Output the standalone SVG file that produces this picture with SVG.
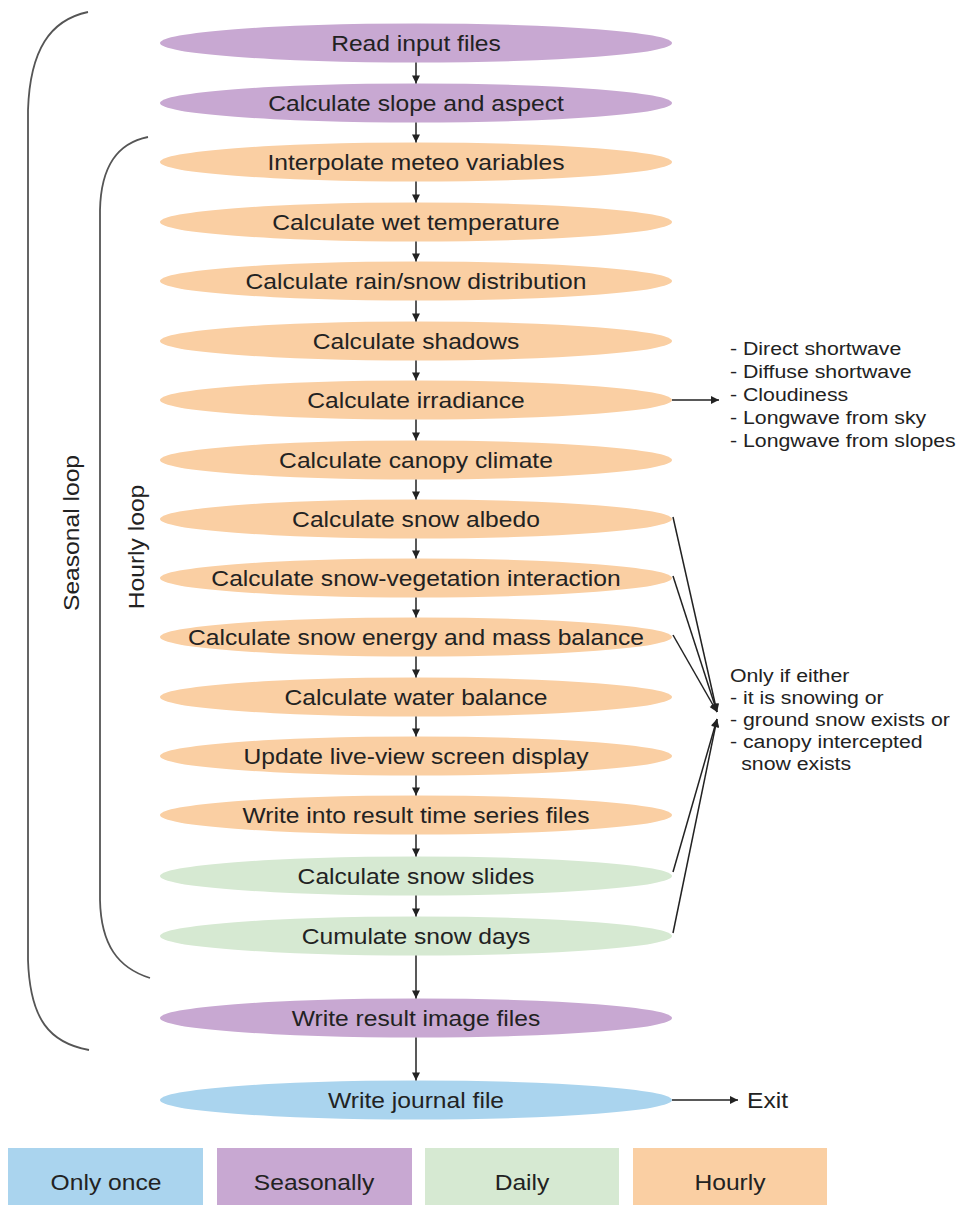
<svg xmlns="http://www.w3.org/2000/svg" width="964" height="1205" viewBox="0 0 964 1205">
<defs>
<style>
.s{fill:#c8a8d2}.h{fill:#facfa3}.d{fill:#d6e9d2}.o{fill:#aad4ee}
.t{font-family:"Liberation Sans",Arial,sans-serif;font-size:22px;fill:#222;text-anchor:middle}
.n{font-family:"Liberation Sans",Arial,sans-serif;font-size:19px;fill:#222}
.c{stroke:#222;stroke-width:1.5;fill:none}
.b{stroke:#555;stroke-width:1.8;fill:none}
</style>
<marker id="ah" viewBox="0 0 10 10" refX="10" refY="5" markerUnits="userSpaceOnUse" markerWidth="9" markerHeight="8" orient="auto"><path d="M0,0 L10,5 L0,10 z" fill="#222"/></marker>
</defs>
<rect width="964" height="1205" fill="#fff"/>
<g id="brackets">
<path class="b" d="M88,12 C50,20 30,50 28,110 L28,960 C30,1020 50,1043 89,1050"/>
<path class="b" d="M148,137 C118,143 101,165 100,210 L100,900 C101,945 118,968 150,978"/>
<text class="t" transform="translate(79,533) rotate(-90) scale(1.12,1)">Seasonal loop</text>
<text class="t" transform="translate(144,547) rotate(-90) scale(1.12,1)">Hourly loop</text>
</g>
<g id="n1"><ellipse class="s" cx="416" cy="43" rx="256" ry="19.5"/><text class="t" transform="translate(416,51) scale(1.12,1)">Read input files</text></g>
<g id="n2"><ellipse class="s" cx="416" cy="103" rx="256" ry="19.5"/><text class="t" transform="translate(416,111) scale(1.12,1)">Calculate slope and aspect</text></g>
<g id="n3"><ellipse class="h" cx="416" cy="162" rx="256" ry="19.5"/><text class="t" transform="translate(416,170) scale(1.12,1)">Interpolate meteo variables</text></g>
<g id="n4"><ellipse class="h" cx="416" cy="222" rx="256" ry="19.5"/><text class="t" transform="translate(416,230) scale(1.12,1)">Calculate wet temperature</text></g>
<g id="n5"><ellipse class="h" cx="416" cy="281" rx="256" ry="19.5"/><text class="t" transform="translate(416,289) scale(1.12,1)">Calculate rain/snow distribution</text></g>
<g id="n6"><ellipse class="h" cx="416" cy="341" rx="256" ry="19.5"/><text class="t" transform="translate(416,349) scale(1.12,1)">Calculate shadows</text></g>
<g id="n7"><ellipse class="h" cx="416" cy="400" rx="256" ry="19.5"/><text class="t" transform="translate(416,408) scale(1.12,1)">Calculate irradiance</text></g>
<g id="n8"><ellipse class="h" cx="416" cy="460" rx="256" ry="19.5"/><text class="t" transform="translate(416,468) scale(1.12,1)">Calculate canopy climate</text></g>
<g id="n9"><ellipse class="h" cx="416" cy="519" rx="256" ry="19.5"/><text class="t" transform="translate(416,527) scale(1.12,1)">Calculate snow albedo</text></g>
<g id="n10"><ellipse class="h" cx="416" cy="578" rx="256" ry="19.5"/><text class="t" transform="translate(416,586) scale(1.12,1)">Calculate snow-vegetation interaction</text></g>
<g id="n11"><ellipse class="h" cx="416" cy="637" rx="256" ry="19.5"/><text class="t" transform="translate(416,645) scale(1.12,1)">Calculate snow energy and mass balance</text></g>
<g id="n12"><ellipse class="h" cx="416" cy="697" rx="256" ry="19.5"/><text class="t" transform="translate(416,705) scale(1.12,1)">Calculate water balance</text></g>
<g id="n13"><ellipse class="h" cx="416" cy="756" rx="256" ry="19.5"/><text class="t" transform="translate(416,764) scale(1.12,1)">Update live-view screen display</text></g>
<g id="n14"><ellipse class="h" cx="416" cy="815" rx="256" ry="19.5"/><text class="t" transform="translate(416,823) scale(1.12,1)">Write into result time series files</text></g>
<g id="n15"><ellipse class="d" cx="416" cy="876" rx="256" ry="19.5"/><text class="t" transform="translate(416,884) scale(1.12,1)">Calculate snow slides</text></g>
<g id="n16"><ellipse class="d" cx="416" cy="936" rx="256" ry="19.5"/><text class="t" transform="translate(416,944) scale(1.12,1)">Cumulate snow days</text></g>
<g id="n17"><ellipse class="s" cx="416" cy="1018" rx="256" ry="19.5"/><text class="t" transform="translate(416,1026) scale(1.12,1)">Write result image files</text></g>
<g id="n18"><ellipse class="o" cx="416" cy="1100" rx="256" ry="19.5"/><text class="t" transform="translate(416,1108) scale(1.12,1)">Write journal file</text></g>
<g id="notes">
<g transform="translate(730,0) scale(1.12,1)">
<text class="n" x="0" y="355">- Direct shortwave</text>
<text class="n" x="0" y="378">- Diffuse shortwave</text>
<text class="n" x="0" y="401">- Cloudiness</text>
<text class="n" x="0" y="424">- Longwave from sky</text>
<text class="n" x="0" y="447">- Longwave from slopes</text>
<text class="n" x="0" y="682">Only if either</text>
<text class="n" x="0" y="704">- it is snowing or</text>
<text class="n" x="0" y="726">- ground snow exists or</text>
<text class="n" x="0" y="748">- canopy intercepted</text>
<text class="n" x="10" y="770">snow exists</text>
</g>
<text class="t" transform="translate(747,1108) scale(1.12,1)" style="text-anchor:start">Exit</text>
</g>
<g id="connectors">
<line class="c" x1="416" y1="62.5" x2="416" y2="83.5" marker-end="url(#ah)"/>
<line class="c" x1="416" y1="122.5" x2="416" y2="142.5" marker-end="url(#ah)"/>
<line class="c" x1="416" y1="181.5" x2="416" y2="202.5" marker-end="url(#ah)"/>
<line class="c" x1="416" y1="241.5" x2="416" y2="261.5" marker-end="url(#ah)"/>
<line class="c" x1="416" y1="300.5" x2="416" y2="321.5" marker-end="url(#ah)"/>
<line class="c" x1="416" y1="360.5" x2="416" y2="380.5" marker-end="url(#ah)"/>
<line class="c" x1="416" y1="419.5" x2="416" y2="440.5" marker-end="url(#ah)"/>
<line class="c" x1="416" y1="479.5" x2="416" y2="499.5" marker-end="url(#ah)"/>
<line class="c" x1="416" y1="538.5" x2="416" y2="558.5" marker-end="url(#ah)"/>
<line class="c" x1="416" y1="597.5" x2="416" y2="617.5" marker-end="url(#ah)"/>
<line class="c" x1="416" y1="656.5" x2="416" y2="677.5" marker-end="url(#ah)"/>
<line class="c" x1="416" y1="716.5" x2="416" y2="736.5" marker-end="url(#ah)"/>
<line class="c" x1="416" y1="775.5" x2="416" y2="795.5" marker-end="url(#ah)"/>
<line class="c" x1="416" y1="834.5" x2="416" y2="856.5" marker-end="url(#ah)"/>
<line class="c" x1="416" y1="895.5" x2="416" y2="916.5" marker-end="url(#ah)"/>
<line class="c" x1="416" y1="955.5" x2="416" y2="998.5" marker-end="url(#ah)"/>
<line class="c" x1="416" y1="1037.5" x2="416" y2="1080.5" marker-end="url(#ah)"/>
<line class="c" x1="672" y1="400" x2="719" y2="400" marker-end="url(#ah)"/>
<line class="c" x1="672" y1="1100" x2="738" y2="1100" marker-end="url(#ah)"/>
<line class="c" x1="673" y1="517" x2="717" y2="712" marker-end="url(#ah)"/>
<line class="c" x1="673" y1="576" x2="717" y2="712" marker-end="url(#ah)"/>
<line class="c" x1="673" y1="635" x2="717" y2="712" marker-end="url(#ah)"/>
<line class="c" x1="673" y1="872" x2="717" y2="719" marker-end="url(#ah)"/>
<line class="c" x1="673" y1="933" x2="717" y2="719" marker-end="url(#ah)"/>
</g>
<g id="legend">
<rect x="8" y="1148" width="195" height="57" class="o"/>
<rect x="217" y="1148" width="195" height="57" class="s"/>
<rect x="425" y="1148" width="194" height="57" class="d"/>
<rect x="633" y="1148" width="194" height="57" class="h"/>
<text class="t" transform="translate(106,1190) scale(1.12,1)">Only once</text>
<text class="t" transform="translate(314,1190) scale(1.12,1)">Seasonally</text>
<text class="t" transform="translate(522,1190) scale(1.12,1)">Daily</text>
<text class="t" transform="translate(730,1190) scale(1.12,1)">Hourly</text>
</g>
</svg>
